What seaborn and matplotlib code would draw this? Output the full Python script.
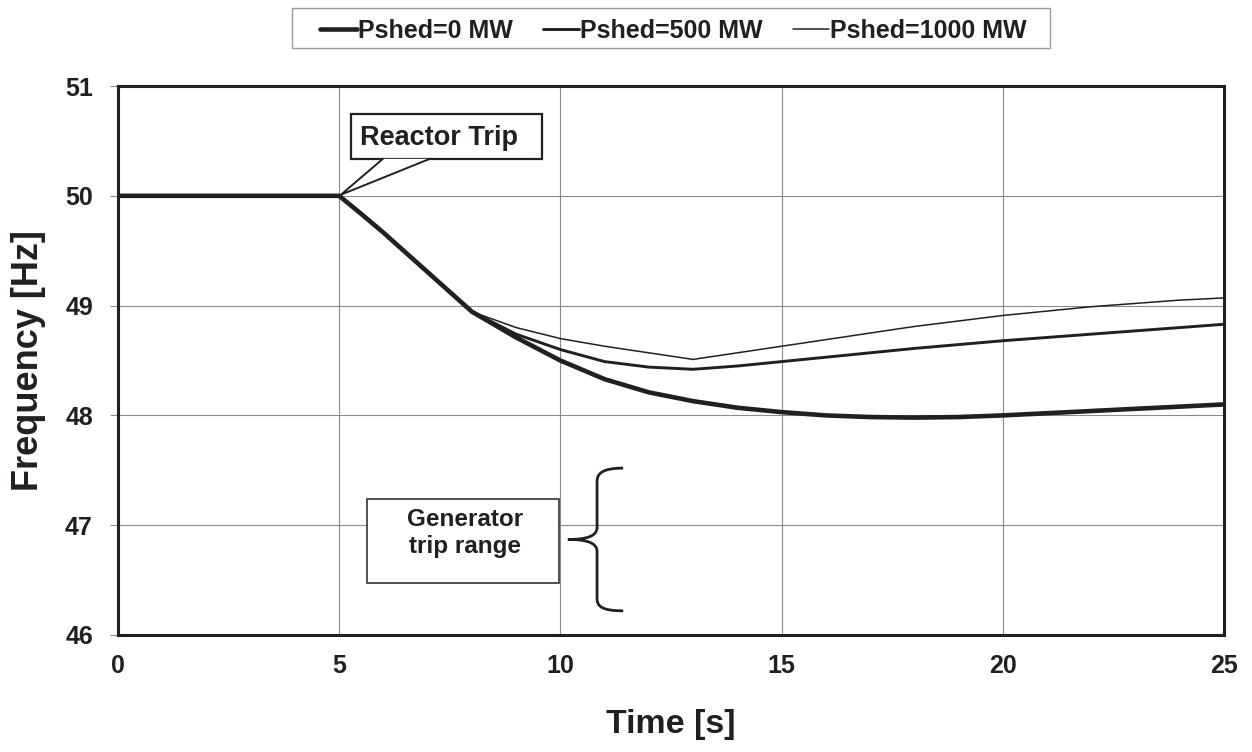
import matplotlib
matplotlib.use("Agg")
import matplotlib.pyplot as plt
import seaborn as sns
import pandas as pd
from matplotlib.path import Path
from matplotlib.patches import PathPatch, Rectangle, Polygon
from matplotlib.lines import Line2D

# Data
time_s = [0, 5, 5.5, 6, 6.5, 7, 7.5, 8, 9, 10, 11, 12, 13, 14, 15, 16, 17, 18,
          19, 20, 21, 22, 23, 24, 25]
freq_0mw = [50, 50, 49.835, 49.665, 49.485, 49.305, 49.125, 48.945, 48.71, 48.50, 48.33,
            48.21, 48.13, 48.07, 48.03, 48.00, 47.985, 47.98, 47.985, 48.00,
            48.02, 48.04, 48.06, 48.08, 48.10]
freq_500mw = [50, 50, 49.835, 49.665, 49.485, 49.305, 49.125, 48.945, 48.74, 48.60, 48.49,
              48.44, 48.42, 48.45, 48.49, 48.53, 48.57, 48.61, 48.645, 48.68,
              48.71, 48.74, 48.77, 48.80, 48.83]
freq_1000mw = [50, 50, 49.835, 49.665, 49.485, 49.305, 49.125, 48.945, 48.80, 48.70, 48.63,
               48.57, 48.51, 48.57, 48.63, 48.69, 48.75, 48.81, 48.86, 48.91,
               48.95, 48.99, 49.02, 49.05, 49.07]
series_labels = ["Pshed=0 MW", "Pshed=500 MW", "Pshed=1000 MW"]
line_widths = [3.3, 2.1, 1.1]

sns.set_theme(style="whitegrid")
plt.rcParams['font.family'] = ['Liberation Sans', 'DejaVu Sans']
plt.rcParams['font.weight'] = 'bold'

df = pd.DataFrame({
    "time": time_s * 3,
    "freq": freq_0mw + freq_500mw + freq_1000mw,
    "case": [series_labels[0]] * len(time_s) + [series_labels[1]] * len(time_s)
            + [series_labels[2]] * len(time_s),
})

ink = "#231f20"
fig = plt.figure(figsize=(12.52, 7.52), dpi=100)
ax = fig.add_axes([0.0942, 0.1556, 0.8834, 0.730])

for label, lw in zip(series_labels, line_widths):
    sns.lineplot(data=df[df["case"] == label], x="time", y="freq", ax=ax,
                 color=ink, linewidth=lw, legend=False)

ax.set_xlim(0, 25)
ax.set_ylim(46, 51)
ax.set_xticks([0, 5, 10, 15, 20, 25])
ax.set_yticks([46, 47, 48, 49, 50, 51])
ax.grid(True, color="#8a8a8a", linewidth=0.8)
for sp in ax.spines.values():
    sp.set_color(ink)
    sp.set_linewidth(2.2)
ax.tick_params(axis="y", labelsize=18, length=6, width=0.8, color="#8a8a8a",
               direction="out", pad=12, left=True)
ax.tick_params(axis="x", labelsize=18, bottom=False, pad=8)
for lab in ax.get_xticklabels() + ax.get_yticklabels():
    lab.set_fontweight("bold")
    lab.set_color(ink)

ax.set_xlabel("Time [s]", fontsize=24.5, fontweight="bold", color=ink, labelpad=22)
ax.set_ylabel("Frequency [Hz]", fontsize=26, fontweight="bold", color=ink, labelpad=14)

# Reactor trip callout
ax.add_patch(Rectangle((5.27, 50.337), 4.31, 0.41, fc="white", ec=ink, lw=1.6,
                       zorder=5, clip_on=False))
ax.text(7.26, 50.464, "Reactor Trip", fontsize=19.5, fontweight="bold", color=ink,
        ha="center", va="baseline", zorder=6)
wedge = [(5.99, 50.337), (5.04, 50.01), (7.05, 50.337)]
ax.add_patch(Polygon(wedge, closed=True, fc="white", ec="none", zorder=6))
ax.plot([p[0] for p in wedge], [p[1] for p in wedge], color=ink, lw=1.4, zorder=7,
        solid_joinstyle="miter")

# Generator trip range box
ax.add_patch(Rectangle((5.63, 46.47), 4.34, 0.77, fc="white", ec="#333333",
                       lw=1.2, zorder=3))
ax.text(7.84, 46.99, "Generator", fontsize=17.5, fontweight="bold",
        color=ink, ha="center", va="baseline", zorder=4)
ax.text(7.84, 46.749, "trip range", fontsize=17.5, fontweight="bold",
        color=ink, ha="center", va="baseline", zorder=4)

# Brace
verts = [(11.42, 47.52),
         (10.95, 47.52), (10.83, 47.47), (10.83, 47.40),
         (10.83, 46.98),
         (10.83, 46.90), (10.6, 46.87), (10.17, 46.87),
         (10.6, 46.87), (10.83, 46.84), (10.83, 46.76),
         (10.83, 46.33),
         (10.83, 46.26), (10.95, 46.22), (11.42, 46.22)]
codes = [Path.MOVETO,
         Path.CURVE4, Path.CURVE4, Path.CURVE4,
         Path.LINETO,
         Path.CURVE4, Path.CURVE4, Path.CURVE4,
         Path.CURVE4, Path.CURVE4, Path.CURVE4,
         Path.LINETO,
         Path.CURVE4, Path.CURVE4, Path.CURVE4]
ax.add_patch(PathPatch(Path(verts, codes), fc="none", ec=ink, lw=2.0, zorder=4))

# Legend (frame drawn separately so it can be wider than tall padding allows)
fig.add_artist(Rectangle((0.2332, 0.9362), 0.6054, 0.0532, transform=fig.transFigure,
                         fc="white", ec="#9a9a9a", lw=1.0))
handles = [Line2D([], [], color=ink, linewidth=lw) for lw in line_widths]
leg = fig.legend(handles, series_labels, loc="center", bbox_to_anchor=(0.538, 0.9594),
                 ncol=3, frameon=False,
                 handlelength=1.45, handletextpad=0.05, columnspacing=1.2,
                 borderpad=0.3, borderaxespad=0.0,
                 prop={"weight": "bold", "size": 18})
for t in leg.get_texts():
    t.set_color(ink)

fig.savefig("out.png", dpi=100)
